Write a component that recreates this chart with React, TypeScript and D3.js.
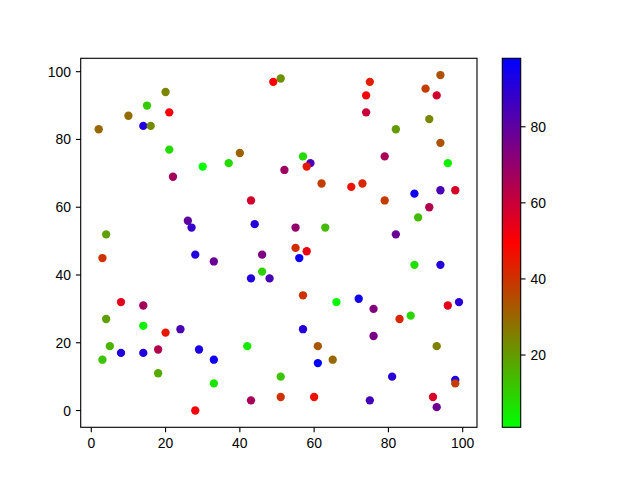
import React, { useEffect, useRef } from 'react';
import * as d3 from 'd3';

// scatter points: x, y and colour value
const xs = [
  2, 10, 15, 14, 16, 20, 21, 21, 22, 30, 37, 40, 43, 44, 26, 27, 4,
  51, 49, 75, 74, 74, 94, 90, 93, 91, 82, 94, 96, 79, 57, 59, 58, 52, 62, 70, 73,
  55, 63, 79, 87, 94, 98, 91, 88, 82,
  3, 28, 33, 43, 8, 14, 4, 14, 20, 24, 5, 3, 8, 14, 18, 18, 29, 33, 33, 28, 42, 43,
  46, 55, 58, 56, 46, 48, 57, 66, 72, 76, 83, 86, 87, 94, 96, 99, 57, 76, 61, 93,
  65, 61, 51, 81, 98, 98, 51, 60, 75, 92, 93,
];
const ys = [
  83, 87, 90, 84, 84, 94, 88, 77, 69, 72, 73, 76, 62, 55, 56, 54, 52,
  98, 97, 97, 93, 88, 99, 95, 93, 86, 83, 79, 73, 75, 75, 73, 72, 71, 67, 66, 67,
  54, 54, 62, 64, 65, 65, 60, 57, 52,
  45, 46, 44, 39, 32, 31, 27, 25, 23, 24, 19, 15, 17, 17, 18, 11, 18, 15, 8, 0, 19, 3,
  46, 48, 47, 45, 41, 39, 34, 32, 33, 30, 27, 28, 43, 43, 31, 32, 24, 22, 19, 19,
  15, 14, 10, 10, 9, 8, 4, 4, 3, 4, 1,
];
const cs = [
  30, 29, 11, 92, 23, 24, 51, 8, 67, 1, 8, 31, 58, 91, 80, 88, 19,
  22, 50, 44, 51, 60, 34, 38, 58, 24, 20, 34, 4, 66, 8, 84, 45, 68, 38, 46, 42,
  70, 14, 38, 95, 84, 57, 64, 14, 78,
  40, 92, 78, 92, 55, 67, 19, 3, 45, 84, 15, 12, 92, 92, 64, 17, 93, 95, 6, 51, 5, 66,
  74, 41, 53, 96, 10, 84, 40, 2, 95, 73, 42, 9, 7, 91, 55, 90, 91, 75, 33, 25,
  30, 98, 12, 90, 93, 38, 40, 46, 85, 57, 77,
];

const xTicks = [0, 20, 40, 60, 80, 100];
const yTicks = [0, 20, 40, 60, 80, 100];
const cbTicks = [20, 40, 60, 80];
const cmapColors = ['#00ff00', '#ff0000', '#0000ff'];

const W = 640;
const H = 480;
const ax = { left: 80.7, top: 58.3, right: 477, bottom: 427.3 };
const cb = { left: 502.3, right: 520.7, top: 58.3, bottom: 427.3 };
const FONT = '"Liberation Sans", Arial, sans-serif';
const FS = 13.9;
const TICK = 4.86;

const App: React.FC = () => {
  const svgRef = useRef<SVGSVGElement>(null);

  useEffect(() => {
    if (!svgRef.current) return;
    const svg = d3.select(svgRef.current);
    svg.selectAll('*').remove();

    const xMin = d3.min(xs)!, xMax = d3.max(xs)!;
    const yMin = d3.min(ys)!, yMax = d3.max(ys)!;
    const xPad = (xMax - xMin) * 0.05;
    const yPad = (yMax - yMin) * 0.05;

    const x = d3.scaleLinear().domain([xMin - xPad, xMax + xPad]).range([ax.left, ax.right]);
    const y = d3.scaleLinear().domain([yMin - yPad, yMax + yPad]).range([ax.bottom, ax.top]);

    const [cMin, cMax] = d3.extent(cs) as [number, number];
    const color = d3.scaleLinear<string>()
      .domain([cMin, (cMin + cMax) / 2, cMax])
      .range(cmapColors);

    // points
    svg.append('g')
      .selectAll('circle')
      .data(xs.map((v, i) => ({ x: v, y: ys[i], c: cs[i] })))
      .join('circle')
      .attr('cx', d => x(d.x))
      .attr('cy', d => y(d.y))
      .attr('r', 4.17)
      .attr('fill', d => color(d.c));

    // axes frame
    svg.append('rect')
      .attr('x', ax.left).attr('y', ax.top)
      .attr('width', ax.right - ax.left).attr('height', ax.bottom - ax.top)
      .attr('fill', 'none').attr('stroke', '#000').attr('stroke-width', 1.11);

    const xg = svg.append('g');
    xTicks.forEach(t => {
      xg.append('line')
        .attr('x1', x(t)).attr('x2', x(t))
        .attr('y1', ax.bottom).attr('y2', ax.bottom + TICK)
        .attr('stroke', '#000').attr('stroke-width', 1.11);
      xg.append('text')
        .attr('x', x(t)).attr('y', ax.bottom + 2 * TICK + 10.6)
        .attr('text-anchor', 'middle')
        .style('font-family', FONT).style('font-size', `${FS}px`)
        .text(t);
    });

    const yg = svg.append('g');
    yTicks.forEach(t => {
      yg.append('line')
        .attr('x1', ax.left - TICK).attr('x2', ax.left)
        .attr('y1', y(t)).attr('y2', y(t))
        .attr('stroke', '#000').attr('stroke-width', 1.11);
      yg.append('text')
        .attr('x', ax.left - 2 * TICK).attr('y', y(t) + 5)
        .attr('text-anchor', 'end')
        .style('font-family', FONT).style('font-size', `${FS}px`)
        .text(t);
    });

    // colorbar as a vertical gradient built from the colour scale
    const cy = d3.scaleLinear().domain([cMin, cMax]).range([cb.bottom, cb.top]);
    const grad = svg.append('defs').append('linearGradient')
      .attr('id', 'cbar')
      .attr('x1', 0).attr('y1', 1).attr('x2', 0).attr('y2', 0);
    grad.selectAll('stop')
      .data(color.domain())
      .join('stop')
      .attr('offset', d => (d - cMin) / (cMax - cMin))
      .attr('stop-color', d => color(d));

    svg.append('rect')
      .attr('x', cb.left).attr('y', cb.top)
      .attr('width', cb.right - cb.left).attr('height', cb.bottom - cb.top)
      .attr('fill', 'url(#cbar)');

    svg.append('rect')
      .attr('x', cb.left).attr('y', cb.top)
      .attr('width', cb.right - cb.left).attr('height', cb.bottom - cb.top)
      .attr('fill', 'none').attr('stroke', '#000').attr('stroke-width', 1.11);

    const cg = svg.append('g');
    cbTicks.forEach(t => {
      cg.append('line')
        .attr('x1', cb.right).attr('x2', cb.right + TICK)
        .attr('y1', cy(t)).attr('y2', cy(t))
        .attr('stroke', '#000').attr('stroke-width', 1.11);
      cg.append('text')
        .attr('x', cb.right + 2 * TICK).attr('y', cy(t) + 5)
        .style('font-family', FONT).style('font-size', `${FS}px`)
        .text(t);
    });
  }, []);

  return (
    <svg
      ref={svgRef}
      width={W}
      height={H}
      style={{ position: 'absolute', left: 0, top: 0, background: '#fff' }}
    />
  );
};

export default App;
